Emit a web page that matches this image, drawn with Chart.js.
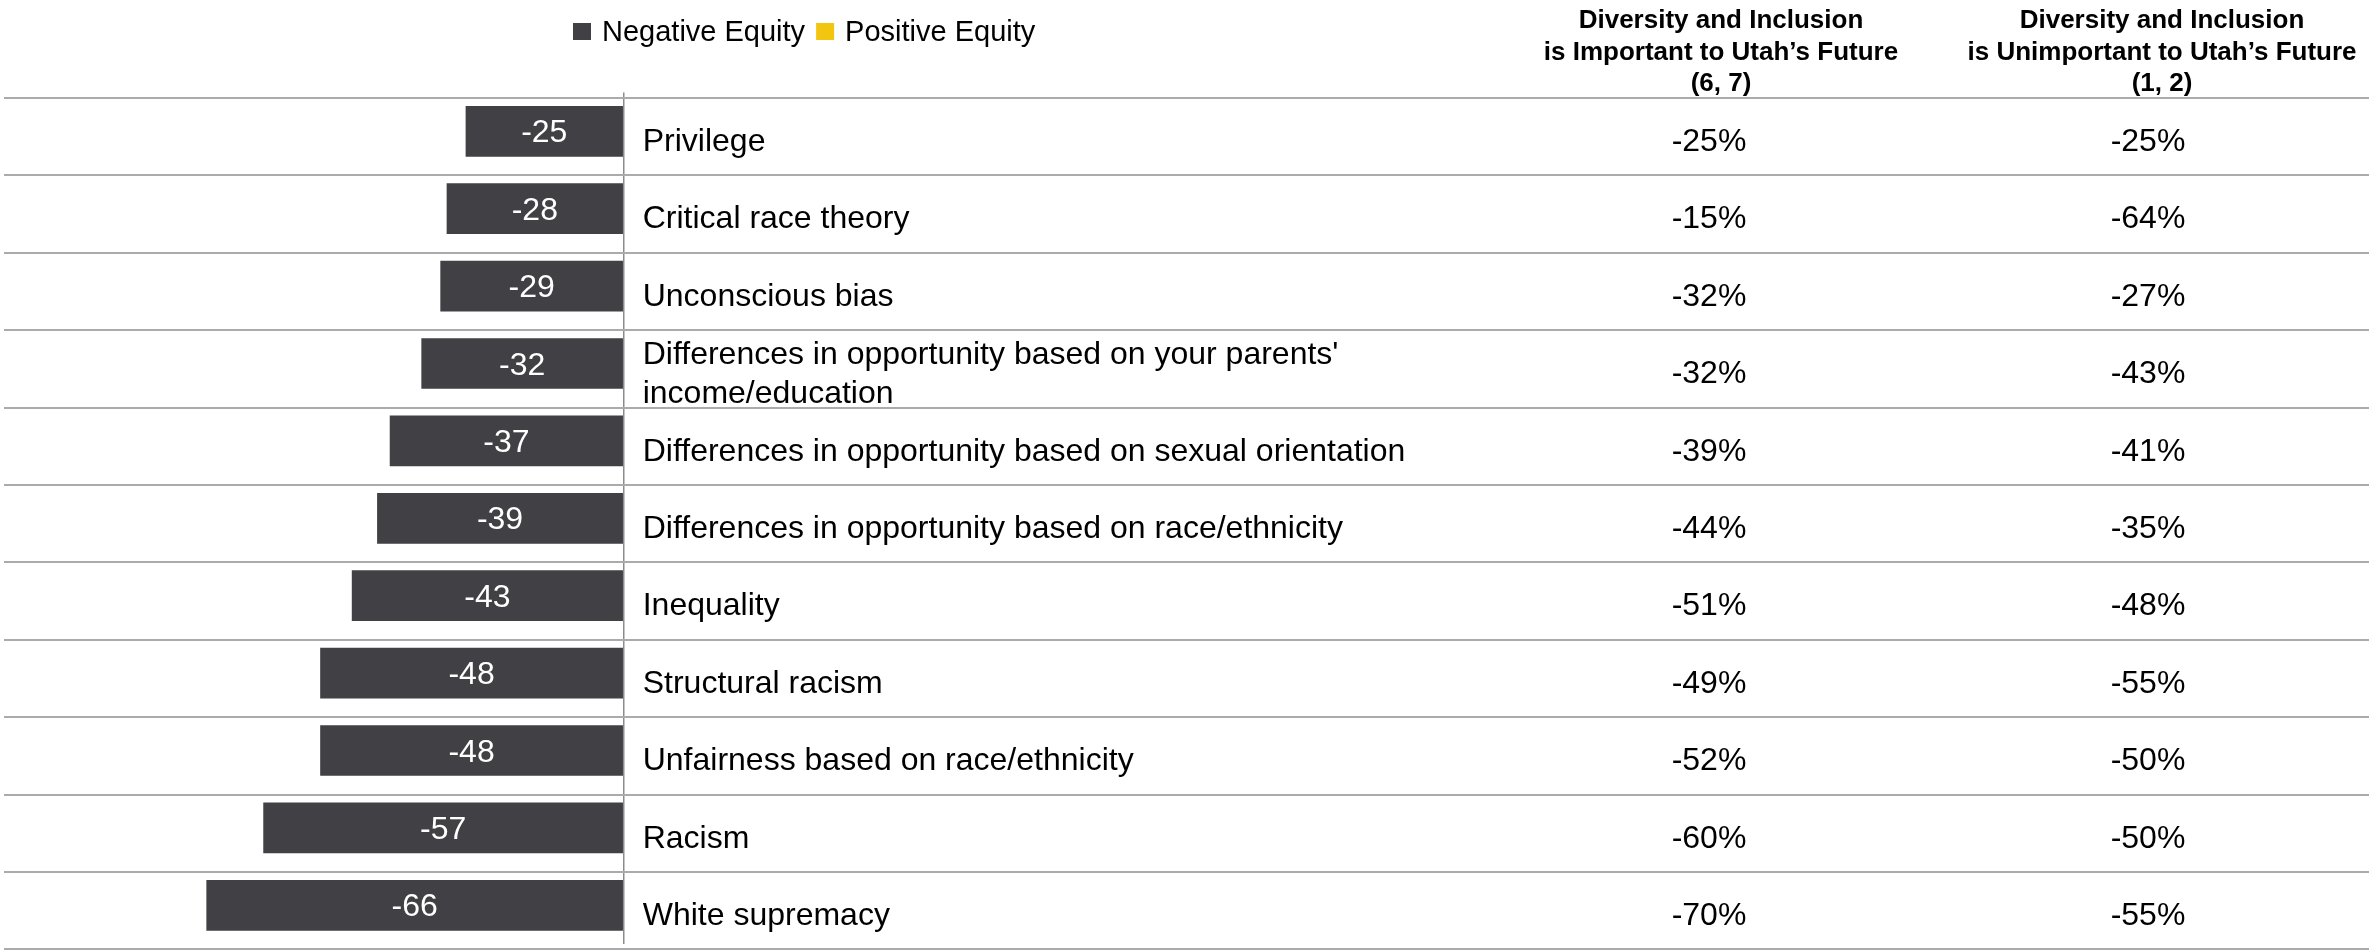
<!DOCTYPE html>
<html>
<head>
<meta charset="utf-8">
<script src="https://cdn.jsdelivr.net/npm/chart.js@4.4.1/dist/chart.umd.min.js"></script>
<style>
  html, body { margin: 0; padding: 0; background: #ffffff; overflow: hidden; }
  #wrap { width: 2369px; height: 951px; position: relative; }
  canvas { display: block; }
</style>
</head>
<body>
<div id="wrap"><canvas id="chart" width="2369" height="951"></canvas></div>
<script>
// ---- data ----
const categories = [
  "Privilege",
  "Critical race theory",
  "Unconscious bias",
  ["Differences in opportunity based on your parents'", "income/education"],
  "Differences in opportunity based on sexual orientation",
  "Differences in opportunity based on race/ethnicity",
  "Inequality",
  "Structural racism",
  "Unfairness based on race/ethnicity",
  "Racism",
  "White supremacy"
];
const seriesNames = ["Negative Equity", "Positive Equity"];
const negativeEquity = [-25, -28, -29, -32, -37, -39, -43, -48, -48, -57, -66];
const positiveEquity = [null, null, null, null, null, null, null, null, null, null, null];
const importantToFuture = [-25, -15, -32, -32, -39, -44, -51, -49, -52, -60, -70];
const unimportantToFuture = [-25, -64, -27, -43, -41, -35, -48, -55, -50, -50, -55];
const columnHeaders = [
  ["Diversity and Inclusion", "is Important to Utah\u2019s Future", "(6, 7)"],
  ["Diversity and Inclusion", "is Unimportant to Utah\u2019s Future", "(1, 2)"]
];
const columnValues = [importantToFuture, unimportantToFuture];

// ---- styling ----
const FONT = '"Liberation Sans", Arial, Helvetica, sans-serif';
const DARK = '#414045';
const GOLD = '#F2C511';
const RULE = '#ababab';
const X_MIN = -98, X_MAX = 276;
const BAR_SHIFT = 5.4;          // bars sit slightly above the middle of each row
const LABEL_GAP = 19;           // gap between zero line and category text
const COLUMN_X = [1709, 2148];  // centres of the value columns
const HEADER_X = [1721, 2162];  // centres of the column headers
const HEADER_BASELINES = [28, 60, 91];

const tablePlugin = {
  id: 'equityTable',
  beforeDatasetsDraw(chart) {
    const ctx = chart.ctx;
    const y = chart.scales.y;
    const rowH = y.getPixelForValue(1) - y.getPixelForValue(0);
    ctx.save();
    ctx.strokeStyle = RULE;
    ctx.lineWidth = 2;
    for (let i = 0; i <= categories.length; i++) {
      const yy = Math.round(y.getPixelForValue(i) - rowH / 2 + BAR_SHIFT);
      ctx.beginPath();
      ctx.moveTo(4, yy);
      ctx.lineTo(chart.width, yy);
      ctx.stroke();
    }
    ctx.restore();
  },
  afterDatasetsDraw(chart) {
    const ctx = chart.ctx;
    const x = chart.scales.x;
    const y = chart.scales.y;
    const rowH = y.getPixelForValue(1) - y.getPixelForValue(0);
    const zeroX = x.getPixelForValue(0);
    ctx.save();

    // values inside the bars
    const meta = chart.getDatasetMeta(0);
    ctx.font = '32px ' + FONT;
    ctx.fillStyle = '#ffffff';
    ctx.textAlign = 'center';
    ctx.textBaseline = 'alphabetic';
    meta.data.forEach((bar, i) => {
      const v = negativeEquity[i];
      if (v == null) return;
      ctx.fillText(String(v), (bar.x + bar.base) / 2, bar.y + 11);
    });

    // category labels and table columns
    ctx.fillStyle = '#000000';
    categories.forEach((cat, i) => {
      const top = y.getPixelForValue(i) - rowH / 2 + BAR_SHIFT;
      ctx.textAlign = 'left';
      if (Array.isArray(cat)) {
        ctx.fillText(cat[0], zeroX + LABEL_GAP, top + 34);
        ctx.fillText(cat[1], zeroX + LABEL_GAP, top + 73);
      } else {
        ctx.fillText(cat, zeroX + LABEL_GAP, top + 53);
      }
      ctx.textAlign = 'center';
      columnValues.forEach((col, c) => {
        ctx.fillText(col[i] + '%', COLUMN_X[c], top + 53);
      });
    });

    // column headers
    ctx.font = 'bold 26px ' + FONT;
    ctx.textAlign = 'center';
    columnHeaders.forEach((lines, c) => {
      lines.forEach((line, k) => {
        ctx.fillText(line, HEADER_X[c], HEADER_BASELINES[k]);
      });
    });

    // legend
    ctx.font = '29px ' + FONT;
    ctx.textAlign = 'left';
    let lx = 573;
    chart.data.datasets.forEach((ds) => {
      ctx.fillStyle = ds.backgroundColor;
      ctx.fillRect(lx, 23, 18, 17);
      lx += 18 + 11;
      ctx.fillStyle = '#000000';
      ctx.fillText(ds.label, lx, 41);
      lx += ctx.measureText(ds.label).width + 11;
    });
    ctx.restore();
  }
};

new Chart(document.getElementById('chart'), {
  type: 'bar',
  data: {
    labels: categories,
    datasets: [
      {
        label: seriesNames[0],
        data: negativeEquity,
        backgroundColor: DARK,
        grouped: false,
        categoryPercentage: 1,
        barPercentage: 0.655
      },
      {
        label: seriesNames[1],
        data: positiveEquity,
        backgroundColor: GOLD,
        grouped: false,
        categoryPercentage: 1,
        barPercentage: 0.655
      }
    ]
  },
  options: {
    indexAxis: 'y',
    responsive: false,
    animation: false,
    events: [],
    layout: { padding: { top: 92.6, bottom: 7, left: 4, right: 0 } },
    plugins: {
      legend: { display: false },
      tooltip: { enabled: false }
    },
    scales: {
      x: {
        min: X_MIN,
        max: X_MAX,
        afterBuildTicks: (axis) => { axis.ticks = [{ value: 0 }]; },
        ticks: { display: false },
        grid: { color: '#8c8c8c', lineWidth: 1.5, drawTicks: false, tickLength: 0 },
        border: { display: false }
      },
      y: {
        display: false,
        offset: true
      }
    }
  },
  plugins: [tablePlugin]
});
</script>
</body>
</html>
